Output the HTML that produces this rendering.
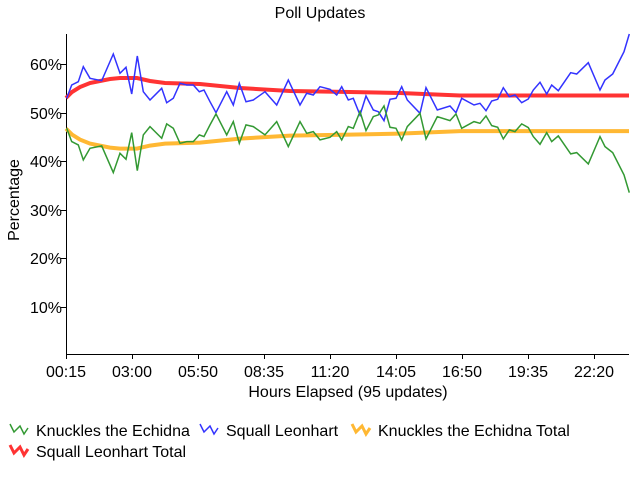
<!DOCTYPE html>
<html><head><meta charset="utf-8"><style>
html,body{margin:0;padding:0;background:#fff;}
svg{display:block;font-family:"Liberation Sans",sans-serif;}
</style></head><body>
<svg width="640" height="480" viewBox="0 0 640 480" xmlns="http://www.w3.org/2000/svg">
<rect width="640" height="480" fill="#fff"/>
<text x="320" y="18" font-size="16" text-anchor="middle" fill="#000">Poll Updates</text>
<g stroke="#000" stroke-width="1" fill="none">
<line x1="66.5" y1="34" x2="66.5" y2="355"/>
<line x1="66" y1="354.5" x2="629" y2="354.5"/>
<line x1="61" y1="64.5" x2="66" y2="64.5"/>
<line x1="61" y1="113.5" x2="66" y2="113.5"/>
<line x1="61" y1="161.5" x2="66" y2="161.5"/>
<line x1="61" y1="210.5" x2="66" y2="210.5"/>
<line x1="61" y1="258.5" x2="66" y2="258.5"/>
<line x1="61" y1="307.5" x2="66" y2="307.5"/>
<line x1="66.5" y1="354" x2="66.5" y2="359"/>
<line x1="132.5" y1="354" x2="132.5" y2="359"/>
<line x1="198.5" y1="354" x2="198.5" y2="359"/>
<line x1="264.5" y1="354" x2="264.5" y2="359"/>
<line x1="330.5" y1="354" x2="330.5" y2="359"/>
<line x1="396.5" y1="354" x2="396.5" y2="359"/>
<line x1="462.5" y1="354" x2="462.5" y2="359"/>
<line x1="528.5" y1="354" x2="528.5" y2="359"/>
<line x1="594.5" y1="354" x2="594.5" y2="359"/>
</g>
<g font-size="16" fill="#000" text-anchor="end">
<text x="62" y="70">60%</text><text x="62" y="119">50%</text><text x="62" y="167">40%</text>
<text x="62" y="216">30%</text><text x="62" y="264">20%</text><text x="62" y="313">10%</text>
</g>
<g font-size="16" fill="#000" text-anchor="middle">
<text x="66" y="377">00:15</text><text x="132" y="377">03:00</text><text x="198" y="377">05:50</text>
<text x="264" y="377">08:35</text><text x="330" y="377">11:20</text><text x="396" y="377">14:05</text>
<text x="462" y="377">16:50</text><text x="528" y="377">19:35</text><text x="594" y="377">22:20</text>
<text x="348" y="397">Hours Elapsed (95 updates)</text>
</g>
<text transform="translate(19,200) rotate(-90)" font-size="16" text-anchor="middle" fill="#000">Percentage</text>

<polyline fill="none" stroke="#ff3333" stroke-width="4" points="66,98 72,92 80,87 90,83 100,81 110,79 120,78 137,78 150,81 165,83 200,84 240,88 290,91 350,92 400,93 460,95.5 629,95.5"/>
<polyline fill="none" stroke="#ffb833" stroke-width="4" points="66,128.6 72,134.6 80,139.6 90,143.6 100,145.6 110,147.6 120,148.6 137,148.6 150,145.6 165,143.6 200,142.6 240,138.6 290,135.6 350,134.6 400,133.6 460,131.1 629,131.1"/>

<polyline fill="none" stroke="#3333ff" stroke-width="1.5" points="66.7,98.3 71.7,85 78.3,81.7 83.3,66.7 90,78.3 101.7,80.7 113.3,54 120,73.3 126,67.3 131.7,94 137.3,56 143.3,91.7 150,100 161.7,88.3 166.7,102.7 173.3,98.3 180,83.3 186.7,85 193.3,85 199.3,91.7 204,90 210,101.7 216,112.7 226.7,91.7 233.3,105 239.3,83.3 246,101.7 253.3,100 265,91.7 276.7,105 288.3,80 300,105 306.7,93.3 313.3,95 320,86.7 330,89.3 336.7,95 341.7,86.7 348.3,100 353.3,98.3 360,115 366,96 373.3,110 378.3,111.7 384,120.7 390,99.3 396,98.3 401.7,86.7 407.3,100 420,113.3 426,87.7 437.3,110 450,106 456,112.7 461.7,98.3 474,105 480,103.3 486,110.7 491.7,101 497.7,99.3 503.3,87.7 509.3,96.7 515,95 521.7,102.7 528.3,99 533.3,90 540,82.3 546.7,94 551.7,85 558.3,90.7 570.7,72.7 576.7,74 588.3,62.7 600,90 605,80 612.7,74 624,51.7 629.3,34"/>
<polyline fill="none" stroke="#339933" stroke-width="1.5" points="66.7,128.3 71.7,141.6 78.3,144.9 83.3,159.9 90,148.3 101.7,145.9 113.3,172.6 120,153.3 126,159.3 131.7,132.6 137.3,170.6 143.3,134.9 150,126.6 161.7,138.3 166.7,123.9 173.3,128.3 180,143.3 186.7,141.6 193.3,141.6 199.3,134.9 204,136.6 210,124.9 216,113.9 226.7,134.9 233.3,121.6 239.3,143.3 246,124.9 253.3,126.6 265,134.9 276.7,121.6 288.3,146.6 300,121.6 306.7,133.3 313.3,131.6 320,139.9 330,137.3 336.7,131.6 341.7,139.9 348.3,126.6 353.3,128.3 360,111.6 366,130.6 373.3,116.6 378.3,114.9 384,105.9 390,127.3 396,128.3 401.7,139.9 407.3,126.6 420,113.3 426,138.9 437.3,116.6 450,120.6 456,113.9 461.7,128.3 474,121.6 480,123.3 486,115.9 491.7,125.6 497.7,127.3 503.3,138.9 509.3,129.9 515,131.6 521.7,123.9 528.3,127.6 533.3,136.6 540,144.3 546.7,132.6 551.7,141.6 558.3,135.9 570.7,153.9 576.7,152.6 588.3,163.9 600,136.6 605,146.6 612.7,152.6 624,174.9 629.3,192.6"/>

<g fill="none" stroke-width="1.5">
<polyline stroke="#339933" points="10,424 14,432 20,426 24,434 28,428"/>
<polyline stroke="#3333ff" points="200,424 204,432 210,426 214,434 218,428"/>
<polyline stroke="#ffb833" stroke-width="3" points="352,424 356,432 362,426 366,434 370,428"/>
<polyline stroke="#ff3333" stroke-width="3" points="10,445 14,453 20,447 24,455 28,449"/>
</g>
<g font-size="16" fill="#000">
<text x="36" y="436">Knuckles the Echidna</text>
<text x="226" y="436">Squall Leonhart</text>
<text x="378" y="436">Knuckles the Echidna Total</text>
<text x="36" y="457">Squall Leonhart Total</text>
</g>
</svg>
</body></html>
